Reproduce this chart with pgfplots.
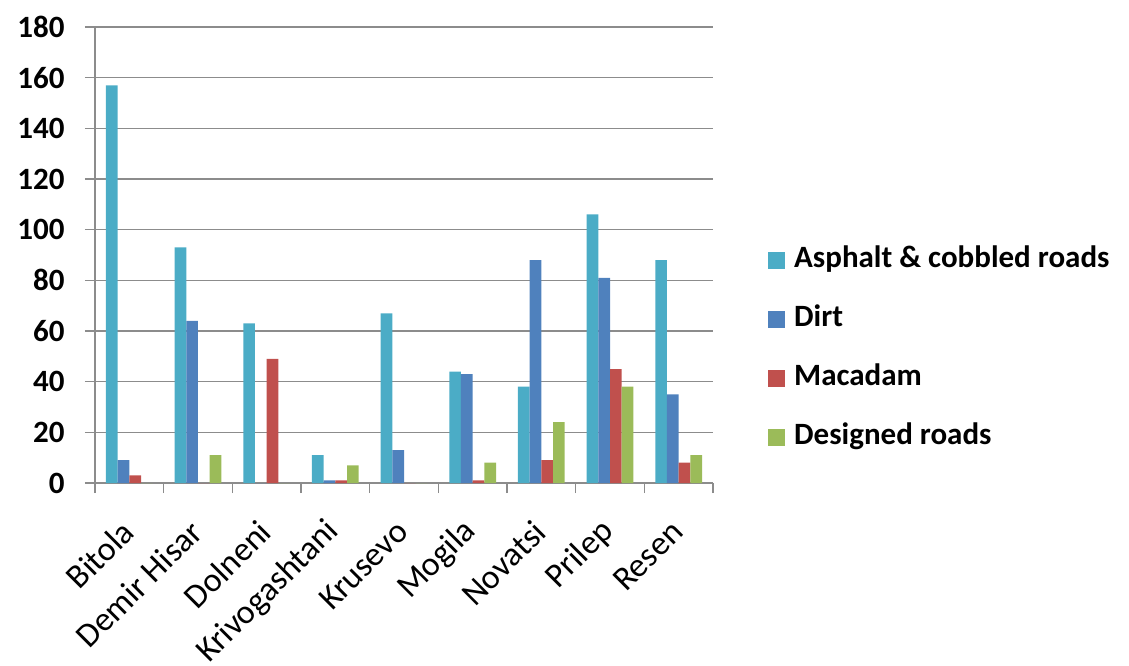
\documentclass[border=0pt]{standalone}
\usepackage{pgfplots}
\pgfplotsset{compat=1.18}
\usepackage{fontspec}
\setmainfont{Carlito}

\definecolor{asphalt}{RGB}{75,172,198}
\definecolor{dirt}{RGB}{79,129,189}
\definecolor{macadam}{RGB}{192,80,77}
\definecolor{designed}{RGB}{155,187,89}
\definecolor{gridgray}{RGB}{140,140,140}

\begin{document}
\begin{tikzpicture}
\path[use as bounding box] (-95pt,-183pt) rectangle (1034pt,483pt);
\begin{axis}[
  scale only axis,
  width=618pt, height=456pt,
  ybar=0pt, bar width=11.7pt,
  xmin=-0.5, xmax=8.5,
  ymin=0, ymax=180,
  ytick={0,20,...,180},
  xtick={-0.5,0.5,...,8.5},
  xticklabels={},
  extra x ticks={0,1,2,3,4,5,6,7,8},
  extra x tick labels={Bitola,Demir Hisar,Dolneni,Krivogashtani,Krusevo,Mogila,Novatsi,Prilep,Resen},
  extra x tick style={major tick length=0pt, grid=none,
    xticklabel style={font=\fontsize{34}{34}\selectfont, xshift=1pt, yshift=-41pt, rotate=45, anchor=east}},
  axis x line*=bottom, axis y line*=left,
  axis line style={draw=gridgray, line width=1.5pt, -},
  tick align=outside, major tick length=10pt,
  tick style={draw=gridgray, line width=1.2pt},
  ymajorgrids, xmajorgrids=false,
  major grid style={draw=gridgray, line width=1.5pt},
  /pgf/number format/assume math mode=true,
  yticklabel style={font=\fontsize{31}{31}\selectfont\bfseries, xshift=-17pt},
  legend cell align=left,
  legend style={at={(1.089,0.294)}, anchor=west, draw=none, fill=none,
    inner sep=0pt, column sep=9pt, row sep=30pt,
    font=\fontsize{31}{31}\selectfont\bfseries,
    nodes={inner sep=0pt, text height=22pt, text depth=7pt}},
  legend image code/.code={\fill[#1] (0pt,-8.5pt) rectangle (17pt,8.5pt);},
]
\addplot[fill=asphalt, draw=none] coordinates {
  (0,157) (1,93) (2,63) (3,11) (4,67) (5,44) (6,38) (7,106) (8,88)};
\addlegendentry{Asphalt \& cobbled roads}
\addplot[fill=dirt, draw=none] coordinates {
  (0,9) (1,64) (2,0) (3,1) (4,13) (5,43) (6,88) (7,81) (8,35)};
\addlegendentry{Dirt}
\addplot[fill=macadam, draw=none] coordinates {
  (0,3) (1,0) (2,49) (3,1) (4,0) (5,1) (6,9) (7,45) (8,8)};
\addlegendentry{Macadam}
\addplot[fill=designed, draw=none] coordinates {
  (0,0) (1,11) (2,0) (3,7) (4,0) (5,8) (6,24) (7,38) (8,11)};
\addlegendentry{Designed roads}
\end{axis}
\end{tikzpicture}
\end{document}
